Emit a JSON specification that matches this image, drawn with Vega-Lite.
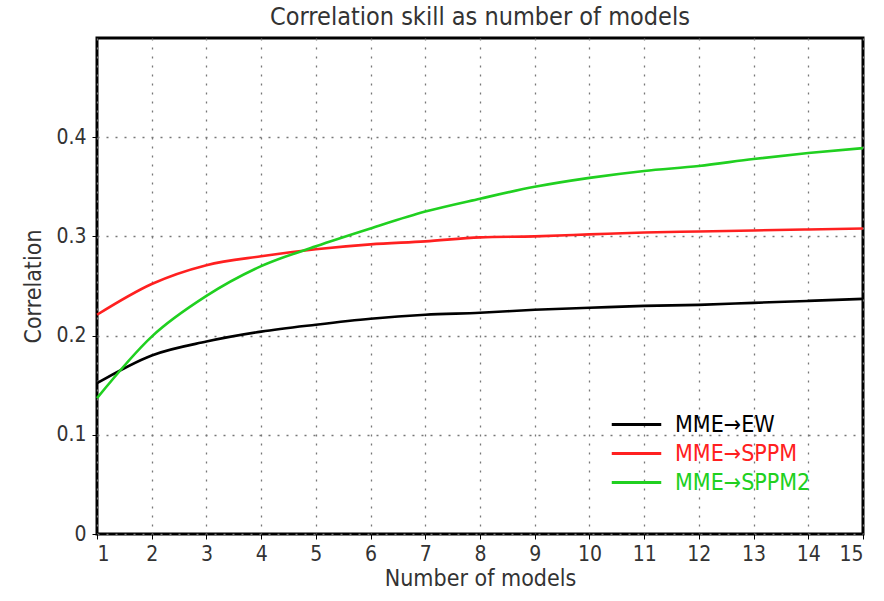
{
  "$schema": "https://vega.github.io/schema/vega-lite/v6.json",
  "width": 766,
  "height": 496,
  "autosize": {"type": "none"},
  "padding": {"left": 97, "top": 38, "right": 21, "bottom": 67},
  "background": "white",
  "title": {"text": "Correlation skill as number of models", "fontSize": 25, "font": "DejaVu Sans Condensed, Liberation Sans", "fontWeight": "normal", "color": "#333", "offset": 8},
  "config": {
    "view": {"stroke": "black", "strokeWidth": 3},
    "axis": {"gridDash": [2, 7], "gridColor": "#777", "gridWidth": 1.3, "labelFont": "DejaVu Sans Condensed, Liberation Sans", "titleFont": "DejaVu Sans Condensed, Liberation Sans", "labelFontSize": 21, "titleFontSize": 23, "labelColor": "#333", "titleColor": "#333", "titleFontWeight": "normal", "domain": false, "tickColor": "black", "tickSize": 5}
  },
  "data": {"values": [
    {"n":1,"s":"MME→EW","c":0.152},{"n":2,"s":"MME→EW","c":0.180},{"n":3,"s":"MME→EW","c":0.194},{"n":4,"s":"MME→EW","c":0.204},{"n":5,"s":"MME→EW","c":0.211},{"n":6,"s":"MME→EW","c":0.217},{"n":7,"s":"MME→EW","c":0.221},{"n":8,"s":"MME→EW","c":0.223},{"n":9,"s":"MME→EW","c":0.226},{"n":10,"s":"MME→EW","c":0.228},{"n":11,"s":"MME→EW","c":0.230},{"n":12,"s":"MME→EW","c":0.231},{"n":13,"s":"MME→EW","c":0.233},{"n":14,"s":"MME→EW","c":0.235},{"n":15,"s":"MME→EW","c":0.237},
    {"n":1,"s":"MME→SPPM","c":0.221},{"n":2,"s":"MME→SPPM","c":0.252},{"n":3,"s":"MME→SPPM","c":0.271},{"n":4,"s":"MME→SPPM","c":0.280},{"n":5,"s":"MME→SPPM","c":0.287},{"n":6,"s":"MME→SPPM","c":0.292},{"n":7,"s":"MME→SPPM","c":0.295},{"n":8,"s":"MME→SPPM","c":0.299},{"n":9,"s":"MME→SPPM","c":0.300},{"n":10,"s":"MME→SPPM","c":0.302},{"n":11,"s":"MME→SPPM","c":0.304},{"n":12,"s":"MME→SPPM","c":0.305},{"n":13,"s":"MME→SPPM","c":0.306},{"n":14,"s":"MME→SPPM","c":0.307},{"n":15,"s":"MME→SPPM","c":0.308},
    {"n":1,"s":"MME→SPPM2","c":0.137},{"n":2,"s":"MME→SPPM2","c":0.199},{"n":3,"s":"MME→SPPM2","c":0.240},{"n":4,"s":"MME→SPPM2","c":0.270},{"n":5,"s":"MME→SPPM2","c":0.290},{"n":6,"s":"MME→SPPM2","c":0.308},{"n":7,"s":"MME→SPPM2","c":0.325},{"n":8,"s":"MME→SPPM2","c":0.338},{"n":9,"s":"MME→SPPM2","c":0.350},{"n":10,"s":"MME→SPPM2","c":0.359},{"n":11,"s":"MME→SPPM2","c":0.366},{"n":12,"s":"MME→SPPM2","c":0.371},{"n":13,"s":"MME→SPPM2","c":0.378},{"n":14,"s":"MME→SPPM2","c":0.384},{"n":15,"s":"MME→SPPM2","c":0.389}
  ]},
  "mark": {"type": "line", "strokeWidth": 2.6, "interpolate": "monotone"},
  "encoding": {
    "x": {"field": "n", "type": "quantitative", "scale": {"domain": [1, 15], "nice": false}, "axis": {"values": [1,2,3,4,5,6,7,8,9,10,11,12,13,14,15], "title": "Number of models", "labelPadding": 4, "titlePadding": 3}},
    "y": {"field": "c", "type": "quantitative", "scale": {"domain": [0, 0.5], "nice": false}, "axis": {"values": [0, 0.1, 0.2, 0.3, 0.4], "labelExpr": "datum.value == 0 ? '0' : format(datum.value, '.1f')", "title": "Correlation", "labelPadding": 6, "titlePadding": 10}},
    "color": {"field": "s", "type": "nominal", "scale": {"domain": ["MME→EW", "MME→SPPM", "MME→SPPM2"], "range": ["#000000", "#ff2020", "#20d020"]},
      "legend": {"title": null, "orient": "none", "legendX": 523, "legendY": 370, "symbolType": "M-1.65,0H1.65", "symbolSize": 900, "symbolStrokeWidth": 3, "labelFontSize": 23, "labelFont": "DejaVu Sans Condensed, Liberation Sans", "rowPadding": 0, "labelOffset": 22,
        "encode": {"labels": {"update": {"fill": {"scale": "color", "field": "value"}}}}}}
  }
}
